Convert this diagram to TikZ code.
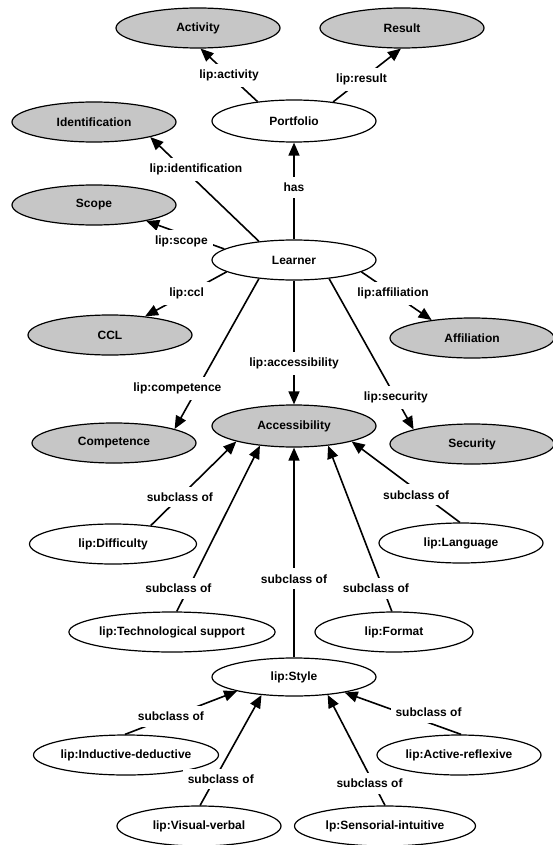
\documentclass[tikz,border=0pt]{standalone}
\usepackage{fontspec}
\setmainfont{Liberation Sans}
\usepackage{tikz}
\usetikzlibrary{arrows.meta, shapes.geometric}
\definecolor{classgray}{RGB}{198,198,198}

\begin{document}
\begin{tikzpicture}[x=1pt, y=-1pt,
        font=\fontsize{12}{14}\selectfont\bfseries,
        class/.style={ellipse, draw=black, line width=1.2pt, fill=classgray, inner sep=0pt, minimum width=164pt, minimum height=40pt},
        member/.style={class, fill=white},
        relation/.style={-{Triangle[length=13pt, width=11pt]}, line width=1.6pt},
        rlabel/.style={fill=white, inner xsep=5pt, inner ysep=6pt}
    ]
            \useasboundingbox (0,0) rectangle (552,845);
            \node[class] (activity) at (198,28) {Activity};
            \node[class] (result) at (402,28) {Result};
            \node[member, minimum height=42pt] (portfolio) at (294,121) {Portfolio};
            \node[class] (ident) at (94,122) {Identification};
            \node[class] (scope) at (94,205) {Scope};
            \node[member] (learner) at (294,260) {Learner};
            \node[class] (ccl) at (110,335) {CCL};
            \node[class] (affil) at (472,338) {Affiliation};
            \node[class] (compet) at (114,443) {Competence};
            \node[class, minimum height=42pt] (access) at (294,426) {Accessibility};
            \node[class] (security) at (472,444) {Security};
            \node[member, minimum width=167pt] (difficulty) at (113,544) {lip:Difficulty};
            \node[member] (language) at (461,543) {lip:Language};
            \node[member, minimum width=203pt] (techsupp) at (172,632) {lip:Technological support};
            \node[member, minimum width=158pt] (format) at (394,632) {lip:Format};
            \node[member, minimum height=38pt] (style) at (294,677) {lip:Style};
            \node[member, minimum width=185pt] (inddeduct) at (126,755) {lip:Inductive-deductive};
            \node[member] (actreflex) at (459,755) {lip:Active-reflexive};
            \node[member] (visverbal) at (199,826) {lip:Visual-verbal};
            \node[member, minimum width=181pt] (sensint) at (385,826) {lp:Sensorial-intuitive};

            % Relations
            \draw[relation] (portfolio.152) -- (activity.-83) node[rlabel, pos=.5] {lip:activity};
            \draw[relation] (portfolio.26) -- (result.-93) node[rlabel, pos=.42] {lip:result};
            \draw[relation] (learner.north) -- (portfolio.south) node[rlabel, pos=.54] {has};
            \draw[relation] (learner.152) -- (ident.-15) node[rlabel, pos=.69, xshift=12pt] {lip:identification};
            \draw[relation] (learner.171) -- (scope.-17) node[rlabel, pos=.55, yshift=-8pt] {lip:scope};
            \draw[relation] (learner.190) -- (ccl.28) node[rlabel, pos=.49] {lip:ccl};
            \draw[relation] (learner.-10) -- (affil.156) node[rlabel, pos=.45] {lip:affiliation};
            \draw[relation] (learner.208) -- (compet.13) node[rlabel, pos=.73, xshift=-20pt] {lip:competence};
            \draw[relation] (learner.south) -- (access.north) node[rlabel, pos=.67] {lip:accessibility};
            \draw[relation] (learner.-28) -- (security.166) node[rlabel, pos=.79] {lip:security};

            % Subclasses
            \draw[relation] (difficulty.26) -- (access.195) node[rlabel, pos=.34] {subclass of};
            \draw[relation] (techsupp.77) -- (access.210) node[rlabel, pos=.14, xshift=-10pt] {subclass of};
            \draw[relation] (style.north) -- (access.south) node[rlabel, pos=.375] {subclass of};
            \draw[relation] (format.96) -- (access.-30) node[rlabel, pos=.14, xshift=-7pt] {subclass of};
            \draw[relation] (language.93) -- (access.-15) node[rlabel, pos=.34, xshift=-7pt] {subclass of};
            \draw[relation] (inddeduct.93) -- (style.194) node[rlabel, pos=.41] {subclass of};
            \draw[relation] (visverbal.87) -- (style.209) node[rlabel, pos=.24, xshift=6pt] {subclass of};
            \draw[relation] (sensint.90) -- (style.-28) node[rlabel, pos=.2, xshift=-4pt] {subclass of};
            \draw[relation] (actreflex.84) -- (style.-17) node[rlabel, pos=.28, yshift=10pt] {subclass of};
    \end{tikzpicture}
\end{document}
